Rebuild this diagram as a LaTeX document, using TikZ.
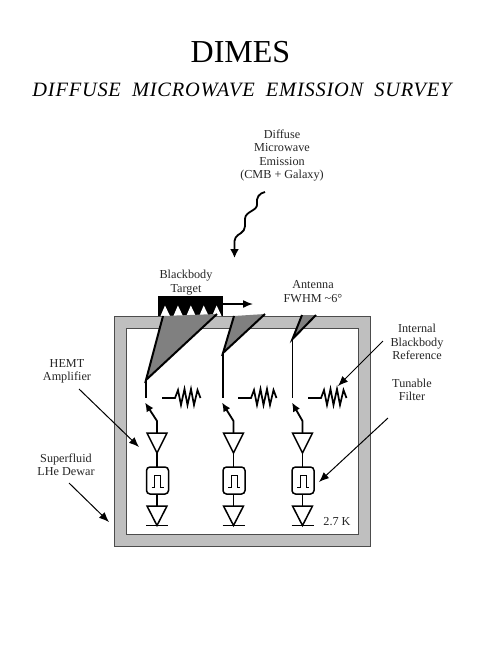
\documentclass[tikz,border=0pt]{standalone}
\usepackage{fontspec}
\setmainfont{Liberation Serif}
\newfontfamily\subfont[LetterSpace=3.8,WordSpace=1.9]{Liberation Serif}
\usetikzlibrary{arrows.meta}
\tikzset{
  lbl/.style={font=\fontsize{12.2}{13.4}\selectfont,align=center,inner sep=0pt,text=black!85},
  wire/.style={line width=1.5pt,black},
  thick wire/.style={line width=2pt,black},
  leader/.style={line width=1pt,-{Latex[length=10pt,width=8pt]}},
  switch/.style={line width=1.8pt,-{Latex[length=9pt,width=8pt]}},
  resistor/.style={line width=1.7pt,line join=miter},
  ampl/.style={draw,line width=1.5pt,fill=white,line join=miter},
  filterbox/.style={draw,line width=1.5pt,rounded corners=3.5pt,fill=white,inner sep=0pt,minimum width=22pt,minimum height=27pt},
  pulse/.style={line width=0.6pt}
}
\begin{document}
\begin{tikzpicture}[x=1pt,y=-1pt]
\useasboundingbox (0,0) rectangle (491,649);
% dewar
\draw[draw=black!70,line width=1pt,fill=black!25] (114,316) rectangle (370,546);
\fill[white] (126,328) rectangle (358,534);
\draw[black!70,line width=1pt] (126,534) -- (126,328) -- (358,328) -- (358,534) -- cycle;
% text
\node[font=\fontsize{32}{36}\selectfont,inner sep=0pt] (title) at (240.5,52) {DIMES};
\node[font=\fontsize{20.4}{24}\selectfont\subfont\itshape,inner sep=0pt] (sub) at (242,90) {DIFFUSE MICROWAVE EMISSION SURVEY};
\node[lbl] (diffuse) at (282,155.5) {Diffuse\\Microwave\\Emission\\(CMB + Galaxy)};
\node[lbl] (bb) at (186,282.5) {Blackbody\\Target};
\node[lbl] (ant) at (313,291.5) {Antenna\\FWHM \char"007E 6\textdegree};
\node[lbl] (ref) at (417,342) {Internal\\Blackbody\\Reference};
\node[lbl] (hemt) at (67,371.5) {HEMT\\Amplifier};
\node[lbl] (dewar) at (66,465) {Superfluid\\LHe Dewar};
\node[lbl] (tun) at (412,390) {Tunable\\Filter};
\node[lbl] (temp) at (337,522) {2.7 K};
% wavy
\coordinate (w0) at (265,192);
\coordinate (w1) at (234.5,258);
\draw[line width=1.8pt,-{Latex[length=9pt,width=9pt]}] (w0) .. controls (259,193) and (256,198) .. (257,204)
  .. controls (258,211) and (245,211) .. (245,219)
  .. controls (245,224) and (246,230) .. (241,233)
  .. controls (236,236) and (234,238) .. (234.5,245) -- (w1);
% target
\fill[black] (158,296) rectangle (223,316);
\foreach \x in {0,1,2,3,4}
  \fill[white] ({160.5+\x*12.9},316) -- ({165+\x*12.9},305.5) -- ({170+\x*12.9},316) -- cycle;
\coordinate (tgt) at (223,304);
\coordinate (tgtend) at (253,304);
\draw[line width=1.5pt,-{Latex[length=10pt,width=8pt]}] (tgt) -- (tgtend);
% horns
\foreach \n/\ax/\ay/\lx/\ly/\rx/\ry in {a/146/380/163/316/217/314,b/223/353/234/316/265/314,c/292.5/339/302/315/316/315}{
  \coordinate (apex\n) at (\ax,\ay);
  \coordinate (hl\n) at (\lx,\ly);
  \coordinate (hr\n) at (\rx,\ry);
  \coordinate (feed\n) at (\ax,398);
  \fill[black!50] (apex\n) -- (hl\n) -- (hr\n) -- cycle;
  \draw[thick wire,line join=miter] (hl\n) -- (apex\n) -- (hr\n);
  \draw[wire] (apex\n) -- (feed\n);
}
% chains
\foreach \n/\c/\tx/\gy in {a/157/145/0,b/233.5/222/1,c/302.5/292/0}{
  \coordinate (tip\n) at (\tx,402.5);
  \coordinate (kink\n) at (\c,421);
  \coordinate (t\n) at (\c,433);
  \draw[switch] (\c,433) -- (kink\n) -- (tip\n);
  \draw[wire] (\c,433) -- (\c,525);
  \draw[ampl] (\c-10,433) -- (\c+10,433) -- (\c,453) -- cycle;
  \node[filterbox] (f\n) at (\c+0.5,480.5) {};
  \draw[pulse] (\c-5.5,487) -- (\c-2.5,487) -- (\c-2.5,475) -- (\c+3.5,475) -- (\c+3.5,487) -- (\c+6.5,487);
  \draw[ampl] (\c-10,506) -- (\c+10,506) -- (\c,525.5) -- cycle;
  \draw[wire] (\c-11,525.5) -- (\c+11,525.5);
}
% resistors
\foreach \x/\n in {162,238,308}
  \draw[resistor] (\x,398) -- ++(13,0) -- ++(3,-8) -- ++(3,15) -- ++(3.5,-16) -- ++(3,16) -- ++(3.5,-16) -- ++(3,16) -- ++(3.5,-15) -- ++(3,8);
% leaders
\coordinate (l1a) at (383,341); \coordinate (l1b) at (338,386);
\coordinate (l2a) at (79,389); \coordinate (l2b) at (139,447);
\coordinate (l3a) at (69,483); \coordinate (l3b) at (109,522);
\coordinate (l4a) at (388,418); \coordinate (l4b) at (319,482);
\draw[leader] (l1a) -- (l1b);
\draw[leader] (l2a) -- (l2b);
\draw[leader] (l3a) -- (l3b);
\draw[leader] (l4a) -- (l4b);
\end{tikzpicture}
\end{document}
